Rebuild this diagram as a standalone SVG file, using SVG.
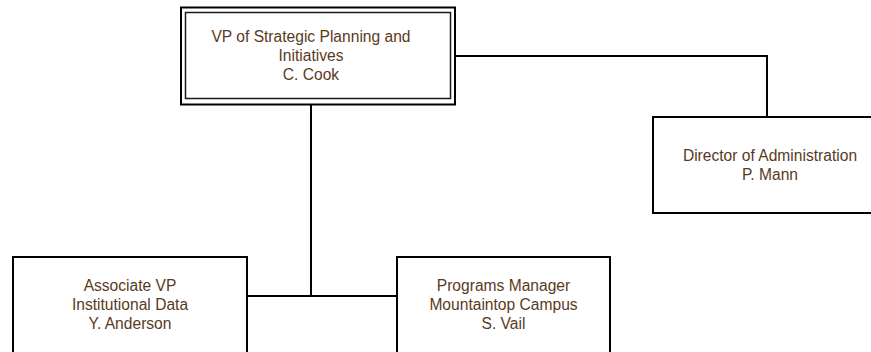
<svg xmlns="http://www.w3.org/2000/svg" width="871" height="352" viewBox="0 0 871 352">
<style>
.box{fill:#fff;stroke:#000;stroke-width:2}
.inner{fill:none;stroke:#1a1a1a;stroke-width:1.5}
.conn{fill:none;stroke:#000;stroke-width:2}
text{font-family:"Liberation Sans",Arial,sans-serif;font-size:15.6px;fill:#5a3a1c;text-anchor:middle}
</style>
<rect width="871" height="352" fill="#fff"/>
<g id="connectors">
<path class="conn" d="M455 56H767V117"/>
<path class="conn" d="M311 104V296"/>
<path class="conn" d="M247 296H397"/>
</g>
<g id="vp">
<rect class="box" x="181" y="7.5" width="274" height="97"/>
<rect class="inner" x="185.5" y="12.5" width="265" height="86"/>
<text x="311" y="42">VP of Strategic Planning and</text>
<text x="311" y="61">Initiatives</text>
<text x="311" y="80">C. Cook</text>
</g>
<g id="director">
<rect class="box" x="653" y="117" width="234" height="96"/>
<text x="770" y="161">Director of Administration</text>
<text x="770" y="180">P. Mann</text>
</g>
<g id="assoc">
<rect class="box" x="13" y="257" width="234" height="110"/>
<text x="130" y="291">Associate VP</text>
<text x="130" y="310">Institutional Data</text>
<text x="130" y="329">Y. Anderson</text>
</g>
<g id="programs">
<rect class="box" x="397" y="257" width="213" height="110"/>
<text x="503.5" y="291">Programs Manager</text>
<text x="503.5" y="310">Mountaintop Campus</text>
<text x="503.5" y="329">S. Vail</text>
</g>
</svg>
